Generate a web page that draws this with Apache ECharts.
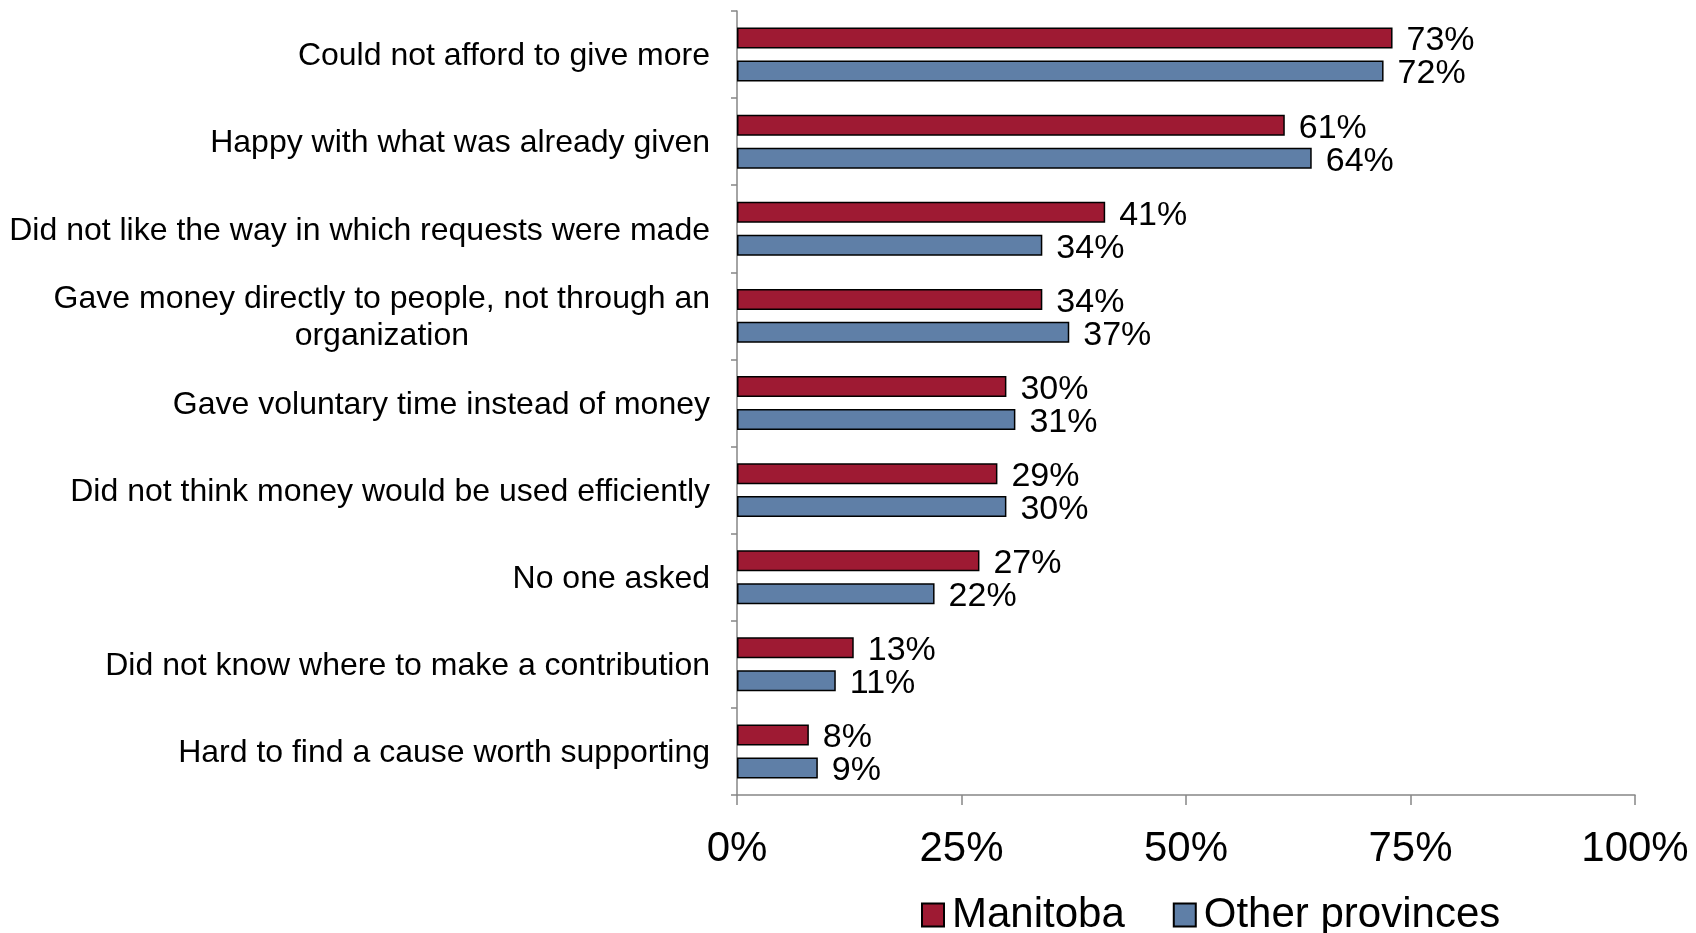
<!DOCTYPE html>
<html>
<head>
<meta charset="utf-8">
<script src="https://cdn.jsdelivr.net/npm/echarts@6/dist/echarts.min.js"></script>
<style>
  html, body { margin: 0; padding: 0; background: #ffffff; }
  #chart { width: 1696px; height: 933px; }
</style>
</head>
<body>
<div id="chart"></div>
<script>
// Reasons for not giving more, share of respondents (%)
const categories = [
  'Could not afford to give more',
  'Happy with what was already given',
  'Did not like the way in which requests were made',
  'Gave money directly to people, not through an\norganization',
  'Gave voluntary time instead of money',
  'Did not think money would be used efficiently',
  'No one asked',
  'Did not know where to make a contribution',
  'Hard to find a cause worth supporting'
];
const manitoba = [73, 61, 41, 34, 30, 29, 27, 13, 8];
const otherProvinces = [72, 64, 34, 37, 31, 30, 22, 11, 9];
const xTicks = [0, 25, 50, 75, 100];

const FONT = '"Liberation Sans", Arial, sans-serif';
const RED = '#9E1A33';
const BLUE = '#5F7FA7';

const chart = echarts.init(document.getElementById('chart'), null, { renderer: 'canvas' });

const barLabel = {
  show: true,
  position: 'right',
  distance: 14,
  offset: [0, 3],
  formatter: p => p.value + '%',
  color: '#000',
  fontFamily: FONT,
  fontSize: 34
};

chart.setOption({
  animation: false,
  backgroundColor: '#ffffff',
  textStyle: { fontFamily: FONT },
  grid: { left: 737, right: 61, top: 11, bottom: 138, containLabel: false },
  legend: {
    left: 916,
    top: 889,
    itemWidth: 22,
    itemHeight: 23,
    itemGap: 48,
    icon: 'rect',
    textStyle: { fontSize: 42, color: '#000', fontFamily: FONT, padding: [0, 0, 0, 3] },
    data: ['Manitoba', 'Other provinces']
  },
  xAxis: {
    type: 'value',
    min: 0,
    max: 100,
    interval: 25,
    axisLine: { show: true, lineStyle: { color: '#868686', width: 1.5 } },
    axisTick: { show: true, length: 10, lineStyle: { color: '#868686', width: 1.5 } },
    splitLine: { show: false },
    axisLabel: {
      margin: 33,
      fontSize: 42,
      color: '#000',
      fontFamily: FONT,
      formatter: v => (xTicks.indexOf(v) >= 0 ? v + '%' : '')
    }
  },
  yAxis: {
    type: 'category',
    inverse: true,
    data: categories,
    axisLine: { show: true, lineStyle: { color: '#868686', width: 1.5 } },
    axisTick: { show: true, length: 6, lineStyle: { color: '#868686', width: 1.5 } },
    axisLabel: {
      margin: 27,
      color: '#000',
      fontSize: 32,
      fontFamily: FONT,
      lineHeight: 37,
      formatter: v => v.split('\n').map(s => '{c|' + s + '}').join('\n'),
      rich: {
        c: { align: 'center', fontSize: 32, lineHeight: 37, color: '#000', fontFamily: FONT, padding: [4, 0, 0, 0] }
      }
    }
  },
  series: [
    {
      name: 'Manitoba',
      type: 'bar',
      data: manitoba,
      barWidth: 21,
      barGap: '57%',
      itemStyle: { color: RED, borderColor: '#000', borderWidth: 1.5 },
      label: barLabel
    },
    {
      name: 'Other provinces',
      type: 'bar',
      data: otherProvinces,
      barWidth: 21,
      barGap: '57%',
      itemStyle: { color: BLUE, borderColor: '#000', borderWidth: 1.5 },
      label: barLabel
    }
  ]
});
</script>
</body>
</html>
